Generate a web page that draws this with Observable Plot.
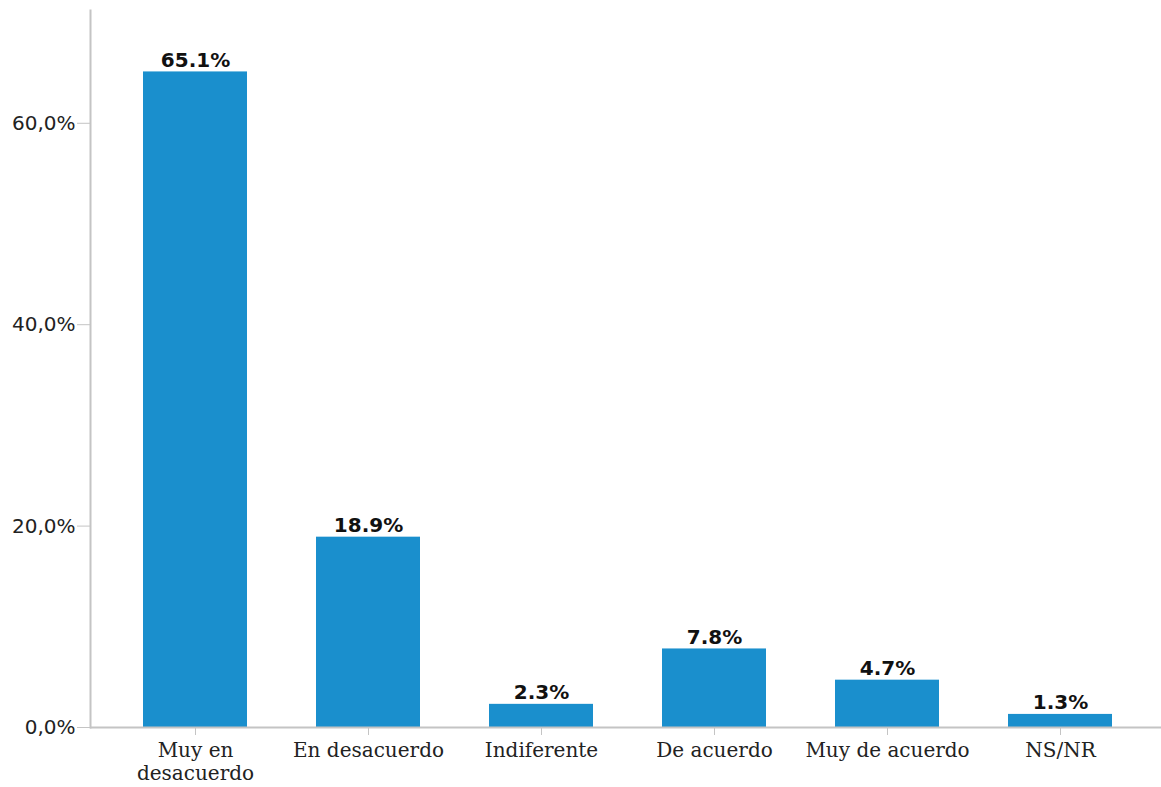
<!DOCTYPE html>
<html>
<head>
<meta charset="utf-8">
<script src="https://cdn.jsdelivr.net/npm/d3@7"></script>
<script src="https://cdn.jsdelivr.net/npm/@observablehq/plot@0.6"></script>
<style>
  html, body { margin: 0; padding: 0; background: #fff; }
</style>
</head>
<body>
<div id="chart"></div>
<script>
const categories = ["Muy en\ndesacuerdo", "En desacuerdo", "Indiferente", "De acuerdo", "Muy de acuerdo", "NS/NR"];
const values = [65.1, 18.9, 2.3, 7.8, 4.7, 1.3];
const yTicks = [0, 20, 40, 60];

const data = categories.map((c, i) => ({category: c, value: values[i]}));

const chart = Plot.plot({
  width: 1161,
  height: 787,
  marginLeft: 90,
  marginRight: 0,
  marginTop: 10,
  marginBottom: 60,
  style: {fontFamily: "DejaVu Sans", background: "#fff"},
  x: {domain: categories, range: [88, 1167], paddingInner: 0.4, paddingOuter: 0.305, label: null},
  y: {domain: [0, 71.2], label: null},
  marks: [
    Plot.barY(data, {x: "category", y: "value", fill: "#1a8fcd"}),
    Plot.frame({anchor: "left", stroke: "#c4c4c4", strokeWidth: 2}),
    Plot.ruleY([0], {stroke: "#c4c4c4", strokeWidth: 2}),
    Plot.axisY({ticks: yTicks, tickSize: 13, tickPadding: 2, stroke: "#c4c4c4", label: null,
      tickFormat: d => d.toFixed(1).replace(".", ",") + "%",
      fontSize: 20, fill: "#222", fontFamily: "DejaVu Sans"}),
    Plot.axisX({tickSize: 8, tickPadding: 6, stroke: "#c4c4c4", label: null,
      fontSize: 20, fill: "#222", fontFamily: "DejaVu Serif", lineHeight: 1.12}),
    Plot.text(data, {x: "category", y: "value", text: d => d.value.toFixed(1) + "%",
      lineAnchor: "bottom", dy: -5, fontSize: 20, fontWeight: "bold", fill: "#111", fontFamily: "DejaVu Sans"})
  ]
});
document.getElementById("chart").appendChild(chart);
</script>
</body>
</html>
